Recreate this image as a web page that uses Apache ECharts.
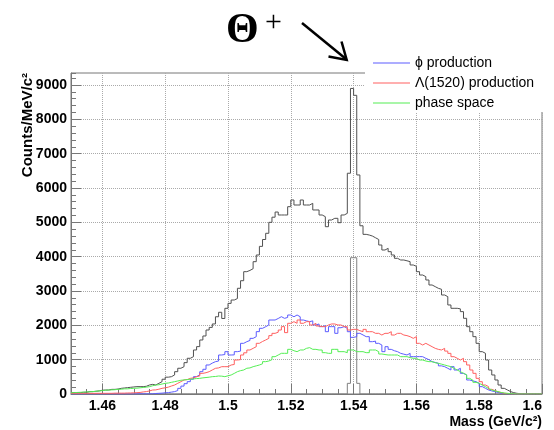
<!DOCTYPE html>
<html><head><meta charset="utf-8">
<script src="https://cdn.jsdelivr.net/npm/echarts@6/dist/echarts.min.js"></script>
<style>html,body{margin:0;padding:0;background:#fff}#c{width:554px;height:430px}</style>
</head><body><div id="c"></div>
<script>
// 1 MeV bins from 1.450 to 1.600 GeV/c^2
const binStart = 1.45;
const binWidth = 0.001;

// total (sum) histogram
const totalCounts = [
  40, 40, 40, 50, 50, 70, 70, 80, 90, 110,
  116, 116, 135, 135, 145, 165, 175, 185, 195, 205,
  214, 214, 214, 225, 262, 280, 262, 311, 360, 430,
  490, 505, 555, 650, 750, 796, 913, 1040, 1087, 1282,
  1380, 1573, 1690, 1864, 1940, 2040, 2250, 2380, 2200, 2496,
  2640, 2738, 2780, 3079, 3300, 3563, 3600, 3650, 3854, 4049,
  4300, 4500, 4681, 5000, 5150, 5300, 5214, 5214, 5214, 5456,
  5651, 5505, 5505, 5651, 5505, 5505, 5554, 5360, 5360, 5214,
  5165, 4873, 5068, 5117, 5117, 4990, 5214, 5262, 6430, 8900,
  8700, 6380, 4900, 4650, 4630, 4600, 4550, 4500, 4340, 4194,
  4243, 4146, 4049, 3952, 3903, 3903, 3880, 3855, 3758, 3720,
  3563, 3466, 3418, 3321, 3175, 3127, 3078, 3050, 2884, 2835,
  2593, 2496, 2496, 2480, 2399, 2205, 1961, 1815, 1670, 1476,
  1233, 1185, 990, 699, 554, 408, 262, 165, 117, 70,
  40, 20, 10, 0, 0, 0, 0, 0, 0, 0
];

// Theta+ signal
const thetaCounts = [
  0,0,0,0,0,0,0,0,0,0, 0,0,0,0,0,0,0,0,0,0,
  0,0,0,0,0,0,0,0,0,0, 0,0,0,0,0,0,0,0,0,0,
  0,0,0,0,0,0,0,0,0,0, 0,0,0,0,0,0,0,0,0,0,
  0,0,0,0,0,0,0,0,0,0, 0,0,0,0,0,0,0,0,0,0,
  0,0,0,0,0,0,0,0,310,3970, 3970,310,0,0,0,0,0,0,0,0,
  0,0,0,0,0,0,0,0,0,0, 0,0,0,0,0,0,0,0,0,0,
  0,0,0,0,0,0,0,0,0,0, 0,0,0,0,0,0,0,0,0,0,
  0,0,0,0,0,0,0,0,0,0
];

// phi production
const phiCounts = [
  0, 0, 0, 0, 0, 0, 0, 0, 0, 0,
  0, 0, 0, 0, 0, 0, 0, 0, 0, 0,
  5, 5, 5, 5, 5, 5, 15, 20, 25, 35,
  40, 55, 70, 100, 165, 230, 300, 360, 430, 505,
  560, 650, 720, 845, 900, 942, 960, 1136, 1150, 1233,
  1136, 1140, 1233, 1250, 1476, 1524, 1560, 1621, 1670, 1816,
  1913, 1960, 2010, 2155, 2155, 2200, 2252, 2204, 2230, 2301,
  2250, 2301, 2250, 2155, 2130, 2107, 2130, 2010, 2040, 1962,
  1990, 1815, 1962, 1962, 1767, 1930, 1962, 1913, 1815, 1650,
  1670, 1767, 1720, 1670, 1670, 1524, 1540, 1476, 1427, 1233,
  1378, 1300, 1260, 1233, 1184, 1160, 1136, 1184, 1087, 1087,
  1090, 1087, 1039, 1000, 942, 920, 893, 820, 796, 748,
  699, 796, 699, 748, 602, 554, 408, 380, 359, 311,
  214, 165, 117, 90, 68, 45, 20, 10, 5, 0,
  0, 0, 0, 0, 0, 0, 0, 0, 0, 0
];

// Lambda(1520) production
const lambdaCounts = [
  20, 20, 20, 20, 20, 20, 20, 20, 20, 20,
  20, 20, 20, 25, 25, 25, 25, 30, 30, 35,
  40, 45, 60, 70, 90, 116, 120, 140, 165, 180,
  200, 233, 262, 311, 360, 408, 420, 456, 470, 505,
  525, 602, 620, 650, 700, 748, 760, 796, 796, 796,
  845, 860, 990, 1000, 1136, 1200, 1282, 1330, 1378, 1476,
  1530, 1573, 1621, 1700, 1767, 1800, 1864, 1962, 1788, 2059,
  2107, 2059, 2155, 2059, 2107, 2107, 2010, 2059, 1981, 1962,
  1962, 2010, 2040, 2040, 2010, 2010, 1962, 1962, 1864, 1883,
  1883, 1845, 1815, 1883, 1815, 1815, 1767, 1767, 1718, 1767,
  1767, 1815, 1718, 1767, 1767, 1718, 1700, 1670, 1621, 1670,
  1476, 1427, 1476, 1427, 1378, 1330, 1300, 1282, 1330, 1250,
  1184, 1087, 1040, 990, 1039, 942, 845, 699, 602, 456,
  359, 262, 214, 136, 100, 68, 40, 20, 10, 5,
  0, 0, 0, 0, 0, 0, 0, 0, 0, 0
];

// phase space
const phaseCounts = [
  40, 45, 50, 55, 60, 65, 70, 80, 90, 100,
  110, 116, 120, 125, 135, 140, 150, 150, 160, 165,
  170, 180, 190, 200, 214, 240, 262, 270, 290, 311,
  320, 340, 360, 379, 400, 410, 420, 430, 440, 450,
  456, 470, 480, 490, 505, 510, 524, 520, 505, 530,
  553, 600, 650, 680, 699, 750, 760, 796, 820, 845,
  880, 942, 960, 1000, 1087, 1136, 1185, 1185, 1185, 1301,
  1260, 1233, 1282, 1282, 1330, 1350, 1301, 1301, 1282, 1282,
  1204, 1185, 1185, 1301, 1301, 1233, 1233, 1204, 1282, 1282,
  1233, 1233, 1233, 1204, 1204, 1282, 1282, 1233, 1165, 1150,
  1136, 1136, 1136, 1136, 1087, 1087, 1087, 1060, 1039, 1039,
  990, 990, 960, 942, 942, 910, 893, 870, 845, 820,
  796, 750, 699, 650, 602, 560, 456, 400, 340, 311,
  260, 214, 160, 117, 90, 68, 45, 30, 20, 10,
  5, 0, 0, 0, 0, 0, 0, 0, 0, 0
];

const legendNames = ['\u03d5 production', '\u039b(1520) production', 'phase space'];
const xTickLabels = [1.46, 1.48, 1.5, 1.52, 1.54, 1.56, 1.58, 1.6];
const yTickLabels = [0, 1000, 2000, 3000, 4000, 5000, 6000, 7000, 8000, 9000];

function toSteps(values) {
  const pts = values.map((v, i) => [+(binStart + i * binWidth).toFixed(3), v]);
  pts.push([+(binStart + values.length * binWidth).toFixed(3), values[values.length - 1]]);
  return pts;
}

const FONT = '"Liberation Sans", Arial, Helvetica, sans-serif';
const SERIF = '"Liberation Serif", "Times New Roman", serif';
const frameColor = '#777';
const gridLine = { show: true, lineStyle: { color: '#aaa', type: 'dotted', width: 1 } };

const chart = echarts.init(document.getElementById('c'), null, { renderer: 'canvas' });

function histSeries(name, values, color, z) {
  return {
    type: 'line', name: name, data: toSteps(values), step: 'end',
    symbol: 'none', showSymbol: false, silent: true, animation: false,
    color: color, lineStyle: { color: color, width: 1 }, z: z,
    xAxisIndex: 0, yAxisIndex: 0
  };
}

chart.setOption({
  animation: false,
  backgroundColor: '#fff',
  grid: { left: 71, right: 12, top: 73, bottom: 36, show: true, borderColor: frameColor, borderWidth: 1, containLabel: false },
  xAxis: [
    {
      type: 'value', min: 1.45, max: 1.6, minInterval: 0.02, maxInterval: 0.02, position: 'bottom',
      axisLine: { show: true, lineStyle: { color: frameColor } },
      axisTick: { show: true, inside: true, length: 10, lineStyle: { color: frameColor }, customValues: xTickLabels },
      axisLabel: { show: true, customValues: xTickLabels, margin: 5, color: '#000', fontFamily: FONT, fontWeight: 'bold', fontSize: 14,
                   alignMaxLabel: 'right', formatter: v => String(+(+v).toFixed(2)) },
      splitLine: gridLine
    },
    {
      type: 'value', min: 1.45, max: 1.6, interval: 0.005, position: 'bottom',
      axisLine: { show: false },
      axisTick: { show: true, inside: true, length: 5, lineStyle: { color: frameColor } },
      axisLabel: { show: false }, splitLine: { show: false }
    }
  ],
  yAxis: [
    {
      type: 'value', min: 0, max: 9350, interval: 1000, position: 'left',
      axisLine: { show: true, lineStyle: { color: frameColor } },
      axisTick: { show: true, inside: true, length: 10, lineStyle: { color: frameColor }, customValues: yTickLabels },
      axisLabel: { show: true, customValues: yTickLabels, margin: 4, color: '#000', fontFamily: FONT, fontWeight: 'bold', fontSize: 14,
                   formatter: v => String(Math.round(+v)) },
      splitLine: gridLine
    },
    {
      type: 'value', min: 0, max: 9350, interval: 200, position: 'left',
      axisLine: { show: false },
      axisTick: { show: true, inside: true, length: 5, lineStyle: { color: frameColor } },
      axisLabel: { show: false }, splitLine: { show: false }
    }
  ],
  legend: {
    data: legendNames, orient: 'vertical', left: 365, top: 48,
    icon: 'rect', itemWidth: 37, itemHeight: 1, itemGap: 6,
    padding: [8, 14, 2, 8], backgroundColor: '#fff', selectedMode: false, z: 10,
    textStyle: { fontFamily: FONT, fontSize: 14, color: '#000', lineHeight: 14 }
  },
  series: [
    histSeries('total', totalCounts, '#505050', 2),
    histSeries('Theta+', thetaCounts, '#808080', 3),
    histSeries(legendNames[0], phiCounts, '#5c5cff', 4),
    histSeries(legendNames[1], lambdaCounts, '#ff6060', 5),
    histSeries(legendNames[2], phaseCounts, '#55ee55', 6)
  ],
  graphic: [
    { type: 'text', x: 27.5, y: 73, rotation: Math.PI / 2, z: 20,
      style: { text: 'Counts/MeV/c\u00b2', fontFamily: FONT, fontWeight: 'bold', fontSize: 15, fill: '#000', align: 'right', verticalAlign: 'middle' } },
    { type: 'text', x: 542, y: 422, z: 20,
      style: { text: 'Mass (GeV/c\u00b2)', fontFamily: FONT, fontWeight: 'bold', fontSize: 14, fill: '#000', align: 'right', verticalAlign: 'middle' } },
    { type: 'text', x: 226, y: 31, z: 20,
      style: { text: '\u0398', fontFamily: SERIF, fontWeight: 'bold', fontSize: 42, fill: '#000', align: 'left', verticalAlign: 'middle' } },
    { type: 'text', x: 265, y: 23, z: 20,
      style: { text: '+', fontFamily: SERIF, fontSize: 30, fill: '#000', align: 'left', verticalAlign: 'middle' } },
    { type: 'line', z: 20, shape: { x1: 302, y1: 23, x2: 346, y2: 59 }, style: { stroke: '#000', lineWidth: 2.5 } },
    { type: 'polyline', z: 20, shape: { points: [[341.5, 41.5], [346.7, 60], [328.5, 56.5]] }, style: { stroke: '#000', lineWidth: 2.5, fill: null } }
  ]
});
</script>
</body></html>
